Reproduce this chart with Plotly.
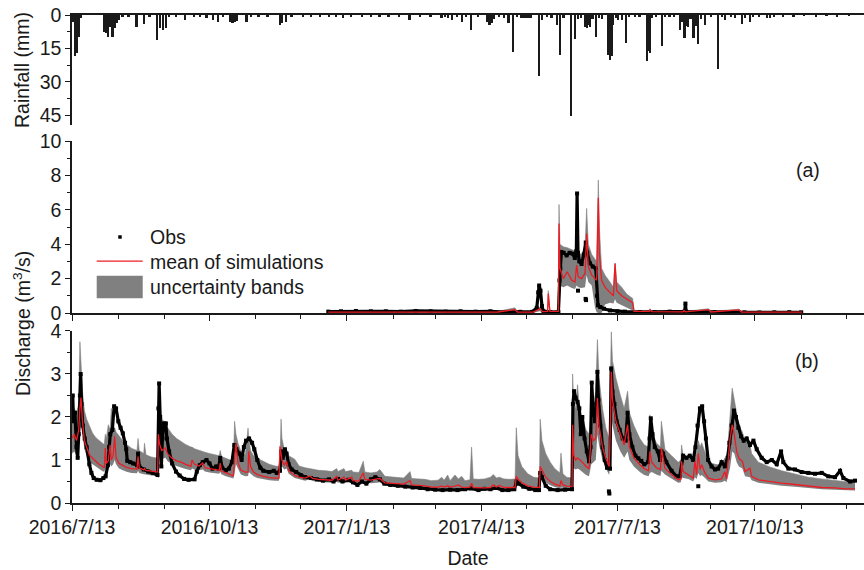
import numpy as np
import pandas as pd
import plotly.graph_objects as go

# ---------------------------------------------------------------------------
# Time base: every series is given as days since 2016-07-13
# ---------------------------------------------------------------------------
START = pd.Timestamp("2016-07-13")
END = pd.Timestamp("2017-12-25")

tick_dates = ["2016-07-13", "2016-10-13", "2017-01-13", "2017-04-13", "2017-07-13", "2017-10-13"]
tick_labels = ["2016/7/13", "2016/10/13", "2017/1/13", "2017/4/13", "2017/7/13", "2017/10/13"]

# ---------------------------------------------------------------------------
# Daily rainfall (mm): rain days only
# ---------------------------------------------------------------------------
rain_day = [1.0, 2.4, 3.5, 4.6, 6.0,
            21.4, 22.8, 24.3, 25.4, 27.2, 28.8, 30.3, 31.7, 34, 38,
            43.3, 48.2, 52,
            57.3, 58.9, 61.1, 62.9, 65,
            70, 75.6, 82, 86,
            90.1, 94.5, 97.9, 101,
            106, 107.5, 109, 110.5, 116.9, 120,
            125, 131, 139.2, 140.3, 143.5, 147,
            155, 160, 166, 172, 177, 181.5, 187, 194, 200, 206, 212, 219, 226, 233, 240,
            247.5, 250, 252, 254.7, 258, 261, 264, 267, 272,
            277.7, 279.5, 281, 282.5, 286, 289,
            292.2, 295.5, 298, 301, 303, 305, 307,
            312.7, 314.5, 318, 321,
            324.5, 326.7, 329,
            333.9, 336.8, 339, 341,
            343.5, 344.8, 345.7, 346.8, 348.5,
            350.7, 353, 355,
            359, 360.2, 361.3, 362.4, 364,
            365.8, 368, 370.7, 373, 377, 380,
            384.8, 385.9, 386.9, 388.5, 391,
            394.8, 397, 400, 403,
            407, 408.5, 410, 411.3, 412.6, 414, 416, 417.5, 419.3, 421, 423.8,
            428, 432.7, 435, 437.2, 441, 444,
            448.3, 450.5, 453.9, 456, 460, 465, 467, 470, 476, 483, 490, 498, 505, 512, 520]
rain_mm = [3.0, 18.5, 17.2, 9.7, 1.5,
           7.5, 8.0, 9.7, 5.2, 9.7, 5.9, 3.7, 2.2, 1.0, 0.8,
           5.2, 4.0, 0.8,
           11.2, 5.9, 6.7, 5.9, 1.0,
           0.8, 2.2, 1.0, 0.7,
           1.5, 2.2, 3.0, 0.8,
           3.0, 3.7, 3.0, 2.5, 3.0, 1.0,
           0.6, 0.8, 4.5, 3.7, 3.0, 0.6,
           0.5, 0.6, 0.7, 0.5, 0.8, 1.2, 0.6, 0.8, 0.6, 0.9, 0.5, 0.6, 2.2, 0.5, 0.6,
           1.5, 1.0, 1.2, 2.2, 0.8, 3.0, 0.7, 6.7, 0.6,
           3.0, 4.5, 3.7, 2.0, 1.0, 1.2,
           3.7, 16.4, 1.0, 1.5, 1.2, 1.5, 1.2,
           27.3, 2.2, 1.0, 1.2,
           4.5, 17.9, 1.5,
           45.2, 10.9, 2.0, 1.5,
           5.2, 6.0, 4.5, 5.2, 2.0,
           9.7, 1.5, 2.0,
           17.9, 20.0, 18.5, 4.5, 1.5,
           2.2, 2.2, 12.4, 1.0, 1.0, 0.8,
           20.6, 16.0, 17.2, 1.5, 1.0,
           13.9, 1.0, 0.8, 1.0,
           6.7, 3.0, 10.4, 5.0, 5.2, 2.0, 10.4, 5.0, 13.1, 2.0, 4.5,
           0.8, 24.3, 0.8, 2.2, 1.0, 1.5,
           4.0, 1.5, 3.0, 1.0, 0.8, 1.5, 1.5, 0.6, 0.5, 0.6, 0.4, 0.5, 0.4, 0.5, 0.4]

# ---------------------------------------------------------------------------
# Panel (a): simulation mean and uncertainty band, observed discharge (m3/s)
# ---------------------------------------------------------------------------
a_sim_day = [171.5, 200, 230, 260, 285, 296.4, 298, 308.7, 313.1, 315,
             318.3, 318.7, 319.8, 325.4, 325.9, 326.5, 328.8, 331.4, 334.4, 336.6,
             337.7, 338.8, 341, 343.3, 344.4, 345.5, 347.8, 350, 351.1, 352.2,
             352.9, 354.4, 356.7, 360, 362.3, 363.4, 364.5, 367.8, 371.2, 375.2,
             376.1, 386.3, 386.8, 388, 409, 409.5, 410.5, 426, 427.5, 446.5,
             448, 470, 488.5]
a_mean = [0.05, 0.06, 0.06, 0.07, 0.06, 0.2, 0.06, 0.05, 0.25, 0.08,
          0.1, 1.13, 0.1, 0.1, 5.2, 2.6, 2.0, 2.4, 1.9, 1.8,
          2.78, 2.1, 2.0, 2.3, 4.62, 2.7, 2.2, 2.0, 1.9, 6.7,
          3.5, 1.9, 1.5, 1.2, 1.0, 2.87, 1.3, 1.0, 0.8, 0.6,
          0.1, 0.1, 0.18, 0.08, 0.07, 0.15, 0.07, 0.2, 0.06, 0.18,
          0.06, 0.05, 0.05]
a_low = [0.02, 0.03, 0.03, 0.03, 0.03, 0.08, 0.03, 0.02, 0.1, 0.03,
         0.04, 0.5, 0.05, 0.05, 1.5, 1.6, 1.5, 1.6, 1.45, 1.4,
         1.6, 1.5, 1.45, 1.5, 2.2, 1.8, 1.6, 0.3, 0.05, 0.0,
         0.0, 0.0, 0.5, 0.6, 0.55, 0.8, 0.6, 0.45, 0.3, 0.15,
         0.03, 0.04, 0.06, 0.03, 0.03, 0.05, 0.03, 0.05, 0.03, 0.05,
         0.03, 0.02, 0.02]
a_high = [0.08, 0.09, 0.1, 0.1, 0.1, 0.3, 0.1, 0.08, 0.35, 0.12,
          0.2, 1.3, 0.15, 0.15, 6.31, 4.0, 3.85, 3.8, 3.7, 3.6,
          4.0, 3.5, 3.4, 3.8, 6.08, 4.0, 3.4, 3.1, 3.0, 7.73,
          5.0, 2.6, 2.2, 1.8, 1.5, 2.9, 1.8, 1.5, 1.1, 0.85,
          0.15, 0.15, 0.25, 0.12, 0.1, 0.2, 0.1, 0.25, 0.1, 0.22,
          0.09, 0.08, 0.08]

a_obs_day = [171.5, 180, 190, 200, 210, 220, 230, 240, 250, 260,
             270, 280, 290, 300, 308, 311, 312, 312.6, 313.5, 314.5,
             315.5, 320, 325.5, 326.2, 326.8, 327.5, 329, 331, 333, 335,
             336.5, 337.5, 338, 338.6, 339.5, 341, 342.5, 343.8, 344.8, 346.5,
             348.5, 350.5, 351.3, 352, 353.5, 356, 360, 365, 370, 380,
             390, 400, 410, 410.5, 411, 420, 430, 440, 450, 460,
             470, 480, 488]
a_obs = [0.08, 0.1, 0.12, 0.1, 0.1, 0.08, 0.12, 0.1, 0.08, 0.1,
         0.08, 0.1, 0.06, 0.07, 0.07, 0.3, 1.2, 1.6, 1.3, 0.4,
         0.1, 0.05, 0.05, 1.9, 2.6, 3.55, 3.5, 3.35, 3.5, 3.45,
         3.2, 3.6, 6.95, 3.5, 3.0, 2.85, 3.4, 4.1, 3.5, 2.9,
         2.7, 2.6, 1.0, 0.45, 0.35, 0.25, 0.15, 0.1, 0.08, 0.06,
         0.05, 0.08, 0.1, 0.55, 0.08, 0.06, 0.05, 0.06, 0.04, 0.03,
         0.04, 0.05, 0.04]
a_obs_out_day = [338.6, 343.7, 344.0]
a_obs_out = [1.3, 0.82, 0.75]

# ---------------------------------------------------------------------------
# Panel (b): simulation mean and uncertainty band, observed discharge (m3/s)
# ---------------------------------------------------------------------------
b_sim_day = [0, 1.5, 3, 4.5, 5.3, 6, 7, 8.3, 9.8, 11.6,
             13.8, 16, 18, 20, 21.6, 22.3, 23, 24.3, 25.5, 26.3,
             27.5, 28.5, 29.5, 31.5, 34, 37, 40, 43.5, 44.2, 45,
             48, 48.5, 49.5, 53, 57.3, 57.8, 58.5, 60, 62.5, 64,
             67, 70, 73, 76, 79.6, 80.3, 82, 85, 87.4, 89,
             92, 95, 98.5, 99.2, 100, 103, 106, 108, 108.8, 109.7,
             111, 113, 116, 117.8, 118.3, 119.5, 121.5, 124, 128, 132,
             136, 138.5, 139.2, 139.9, 140.5, 142, 143.6, 145, 149, 152,
             156, 159.2, 161, 165, 170, 174, 177.1, 178, 182, 183,
             187.2, 188, 192, 194.9, 196, 200, 204, 206, 209.4, 214,
             218.4, 222, 226.2, 227.3, 232, 236, 240.6, 245, 247.4, 249,
             251.4, 253, 256.3, 258.5, 260.8, 263, 266.3, 267.4, 268.5, 272,
             276, 280, 282, 284, 286, 289, 293, 296.5, 297.3, 298.5,
             301, 305, 309, 312.8, 313.3, 314.5, 317, 320, 323, 326.5,
             327.2, 328.5, 331, 334.6, 335, 335.8, 337, 338.3, 339.5, 341.5,
             344, 346, 347.5, 349, 350.5, 351.6, 352.7, 355, 357.2, 359.5,
             360.4, 360.9, 361.7, 364, 367, 369.5, 371.8, 373, 376, 380,
             383, 385.8, 386.7, 388, 391, 393.8, 394.4, 396.8, 401.2, 405.7,
             407.5, 407.9, 409, 412.4, 415.7, 416.9, 418, 419.1, 420.3, 421.4,
             423.6, 425.9, 430.3, 434.7, 436.9, 438, 440.3, 441.8, 443.2, 444.8,
             446.3, 448.6, 450.4, 453.7, 454.8, 459.3, 466, 474.9, 483.8, 492.7,
             501.7, 510.6, 517.3, 524]
b_mean = [1.5, 1.6, 1.45, 1.7, 2.2, 2.45, 1.9, 1.45, 1.3, 1.12,
          1.04, 0.97, 0.9, 0.86, 0.82, 1.28, 0.92, 0.98, 1.35, 1.0,
          1.1, 1.55, 1.05, 0.92, 0.88, 0.82, 0.8, 0.79, 1.08, 0.82,
          0.77, 0.8, 0.76, 0.74, 0.72, 1.6, 1.38, 1.22, 1.28, 1.14,
          1.04, 0.98, 0.95, 0.9, 0.85, 1.0, 0.9, 0.86, 0.93, 0.82,
          0.8, 0.78, 0.76, 0.93, 0.75, 0.7, 0.65, 0.63, 1.05, 1.39,
          0.95, 0.76, 0.72, 0.72, 1.2, 0.85, 0.72, 0.66, 0.62, 0.59,
          0.58, 0.58, 1.32, 1.1, 1.0, 0.88, 0.97, 0.75, 0.64, 0.6,
          0.58, 0.63, 0.57, 0.55, 0.54, 0.53, 0.62, 0.53, 0.6, 0.53,
          0.6, 0.52, 0.51, 0.7, 0.55, 0.53, 0.56, 0.57, 0.47, 0.46,
          0.45, 0.44, 0.52, 0.42, 0.41, 0.4, 0.37, 0.37, 0.39, 0.37,
          0.4, 0.37, 0.39, 0.42, 0.37, 0.36, 0.37, 0.46, 0.36, 0.35,
          0.35, 0.36, 0.42, 0.37, 0.41, 0.36, 0.36, 0.36, 0.62, 0.55,
          0.47, 0.4, 0.37, 0.36, 0.85, 0.78, 0.6, 0.5, 0.44, 0.4,
          0.52, 0.42, 0.39, 0.38, 1.82, 1.1, 1.0, 1.05, 1.02, 0.95,
          0.85, 0.8, 1.6, 1.45, 1.5, 2.44, 1.8, 1.3, 1.04, 0.85,
          2.0, 3.05, 2.4, 1.9, 1.6, 1.35, 1.82, 1.3, 1.05, 0.89,
          0.8, 0.75, 1.2, 0.95, 0.82, 0.78, 1.28, 0.81, 0.66, 0.54,
          0.56, 0.97, 0.73, 0.66, 0.58, 0.97, 0.66, 1.15, 0.78, 0.89,
          0.7, 0.58, 0.54, 0.56, 0.73, 0.56, 1.47, 1.82, 1.59, 1.2,
          1.04, 0.97, 0.73, 0.81, 0.62, 0.54, 0.5, 0.46, 0.43, 0.39,
          0.36, 0.35, 0.33, 0.33]
b_low = [1.15, 1.2, 1.1, 1.25, 1.7, 1.9, 1.6, 1.25, 1.1, 0.96,
         0.9, 0.84, 0.79, 0.75, 0.72, 0.8, 0.78, 0.82, 0.9, 0.85,
         0.9, 1.0, 0.9, 0.8, 0.76, 0.72, 0.7, 0.69, 0.75, 0.7,
         0.67, 0.67, 0.66, 0.64, 0.63, 0.95, 1.1, 1.02, 1.05, 0.97,
         0.9, 0.86, 0.82, 0.79, 0.76, 0.8, 0.78, 0.76, 0.78, 0.73,
         0.71, 0.7, 0.68, 0.72, 0.67, 0.62, 0.58, 0.57, 0.7, 0.9,
         0.8, 0.66, 0.62, 0.63, 0.72, 0.68, 0.62, 0.58, 0.55, 0.53,
         0.52, 0.52, 0.7, 0.85, 0.85, 0.78, 0.8, 0.68, 0.58, 0.55,
         0.52, 0.55, 0.51, 0.49, 0.48, 0.47, 0.5, 0.47, 0.49, 0.47,
         0.48, 0.46, 0.45, 0.5, 0.47, 0.46, 0.47, 0.48, 0.41, 0.4,
         0.39, 0.38, 0.4, 0.37, 0.36, 0.35, 0.33, 0.33, 0.33, 0.33,
         0.33, 0.32, 0.32, 0.33, 0.32, 0.31, 0.32, 0.34, 0.31, 0.3,
         0.3, 0.3, 0.32, 0.31, 0.31, 0.3, 0.3, 0.3, 0.38, 0.42,
         0.38, 0.33, 0.31, 0.3, 0.55, 0.6, 0.48, 0.41, 0.37, 0.34,
         0.36, 0.35, 0.33, 0.32, 0.9, 0.8, 0.78, 0.8, 0.78, 0.72,
         0.65, 0.62, 0.9, 0.95, 1.0, 1.6, 1.35, 1.0, 0.8, 0.65,
         1.0, 2.0, 1.8, 1.45, 1.2, 1.05, 1.2, 1.0, 0.85, 0.72,
         0.65, 0.62, 0.7, 0.72, 0.66, 0.63, 0.75, 0.66, 0.56, 0.47,
         0.48, 0.6, 0.58, 0.56, 0.5, 0.6, 0.56, 0.7, 0.62, 0.65,
         0.58, 0.5, 0.47, 0.48, 0.52, 0.48, 0.8, 1.2, 1.15, 0.95,
         0.85, 0.8, 0.62, 0.6, 0.53, 0.47, 0.44, 0.4, 0.38, 0.35,
         0.32, 0.31, 0.3, 0.29]
b_high = [2.0, 2.2, 2.1, 2.3, 3.75, 3.2, 2.6, 2.15, 1.95, 1.8,
          1.62, 1.52, 1.45, 1.4, 1.36, 1.6, 1.5, 1.82, 1.7, 2.2,
          1.75, 1.75, 1.65, 1.55, 1.45, 1.35, 1.27, 1.22, 1.5, 1.22,
          1.15, 1.39, 1.12, 1.07, 1.04, 2.2, 2.17, 1.97, 1.85, 1.75,
          1.6, 1.5, 1.43, 1.36, 1.3, 1.3, 1.26, 1.22, 1.2, 1.18,
          1.15, 1.12, 1.1, 1.22, 1.08, 1.04, 0.99, 0.97, 1.9, 1.6,
          1.4, 1.2, 1.12, 1.74, 1.5, 1.22, 1.1, 1.04, 0.97, 0.9,
          0.86, 0.85, 1.0, 1.95, 1.5, 1.25, 1.2, 1.1, 1.02, 0.86,
          0.82, 0.8, 0.78, 0.76, 0.75, 0.73, 0.8, 0.73, 0.8, 0.73,
          0.76, 0.72, 0.71, 0.97, 0.72, 0.7, 0.72, 0.78, 0.62, 0.6,
          0.59, 0.58, 0.73, 0.57, 0.56, 0.55, 0.52, 0.53, 0.6, 0.53,
          0.65, 0.52, 0.65, 0.56, 0.62, 0.52, 0.54, 1.3, 0.56, 0.55,
          0.56, 0.6, 0.66, 0.58, 0.6, 0.56, 0.55, 0.56, 1.75, 1.1,
          0.85, 0.68, 0.6, 0.58, 1.95, 1.45, 1.15, 0.95, 0.8, 0.7,
          1.16, 0.68, 0.6, 0.58, 3.0, 2.3, 2.2, 2.75, 2.2, 2.0,
          1.7, 1.6, 2.1, 2.3, 2.6, 3.8, 2.9, 2.2, 1.75, 1.5,
          3.2, 3.98, 3.3, 2.9, 2.5, 2.2, 2.6, 2.1, 1.8, 1.5,
          1.35, 1.3, 2.05, 1.65, 1.4, 1.3, 1.9, 1.25, 1.1, 0.95,
          1.0, 1.35, 1.1, 1.05, 1.0, 1.43, 1.1, 1.45, 1.3, 1.4,
          1.2, 0.95, 0.9, 0.88, 1.05, 0.9, 2.0, 2.67, 2.4, 2.1,
          1.8, 1.65, 1.45, 1.35, 1.15, 0.95, 0.85, 0.75, 0.68, 0.6,
          0.56, 0.53, 0.5, 0.47]

b_obs_day = [0, 0.5, 1, 2, 3, 3.8, 4.5, 5.3, 5.8, 6.4,
             7.2, 8.5, 9.8, 11.6, 13, 14.5, 16.5, 19, 21, 22.5,
             24, 24.8, 25.6, 27, 28.2, 29.5, 31, 32.5, 34, 35.5,
             36.3, 37, 39, 41, 43.5, 44.2, 45, 48, 51, 54,
             57.2, 57.8, 58.3, 59, 59.8, 60.5, 61.5, 62.8, 63.5, 65,
             67, 69.6, 72, 75, 78, 82, 83.5, 85.5, 87.5, 90,
             92, 94, 96.5, 98, 99.2, 100.5, 103, 105, 107, 108.6,
             110, 112, 113.5, 115, 116.5, 118.5, 120.5, 122, 124, 126,
             128, 132, 135, 137, 139.2, 140, 141, 142.5, 143.6, 145,
             147, 150, 153, 156, 160, 164, 168, 172, 175, 178,
             181, 185, 188, 191, 194, 197, 200, 203, 206, 209,
             213, 218, 223, 228, 233, 238, 243, 248, 253, 258,
             263, 267, 272, 276, 280, 284, 288, 292, 296, 297.5,
             299, 302, 306, 310, 312.5, 313.3, 314.5, 317, 320, 325,
             330, 334.6, 335.2, 336, 337, 338.3, 339.5, 340.5, 341.5, 343,
             344.5, 346, 347, 347.8, 348.5, 350, 351, 351.6, 352.3, 353.5,
             355, 356.5, 358, 360, 360.8, 361.7, 363, 364.5, 366.5, 368.5,
             370.5, 371.8, 373, 375, 377, 379, 381, 383, 385.5, 386.5,
             387.3, 388.5, 390, 392, 393.5, 394.5, 395.6, 397.7, 401.2, 404.5,
             406.7, 409, 411.2, 413.4, 415.7, 417.2, 418.6, 420.2, 421.7, 423,
             424.2, 425.7, 428, 430.3, 432.4, 434.7, 436.9, 438.7, 439.9, 441.4,
             443, 444.3, 445.9, 447.7, 449.5, 451.5, 453.7, 456, 458.2, 461.5,
             464.9, 468.3, 471.6, 474.5, 476, 479.4, 483.8, 488.3, 492.7, 497.2,
             501.7, 506.1, 510.6, 514, 516.2, 520.7, 524]
b_obs = [2.0, 2.5, 1.9, 2.1, 1.3, 1.05, 1.6, 2.5, 3.0, 2.3,
         1.8, 1.5, 1.3, 0.9, 0.7, 0.58, 0.54, 0.53, 0.58, 0.62,
         0.88, 1.3, 1.6, 1.7, 2.25, 2.2, 1.9, 1.75, 1.62, 1.4,
         1.25, 0.98, 0.95, 0.92, 0.88, 1.15, 0.85, 0.78, 0.73, 0.7,
         0.65, 2.2, 2.78, 2.0, 0.85, 1.5, 1.85, 1.85, 1.5, 1.2,
         0.92, 0.73, 0.64, 0.56, 0.54, 0.55, 0.73, 0.88, 0.95, 1.0,
         0.92, 0.8, 0.85, 0.8, 1.05, 0.82, 0.76, 0.8, 0.95, 1.35,
         1.25, 1.15, 1.0, 1.3, 1.45, 1.5, 1.4, 1.25, 1.0, 0.82,
         0.75, 0.72, 0.75, 0.7, 0.75, 1.2, 1.05, 1.25, 1.15, 0.9,
         0.78, 0.72, 0.65, 0.6, 0.58, 0.55, 0.52, 0.55, 0.5, 0.56,
         0.5, 0.54, 0.48, 0.42, 0.5, 0.45, 0.55, 0.6, 0.55, 0.45,
         0.42, 0.4, 0.38, 0.36, 0.35, 0.32, 0.31, 0.3, 0.31, 0.3,
         0.32, 0.34, 0.3, 0.33, 0.32, 0.35, 0.3, 0.3, 0.32, 0.5,
         0.45, 0.38, 0.33, 0.3, 0.3, 0.7, 0.6, 0.4, 0.32, 0.3,
         0.31, 0.32, 2.3, 2.6, 2.45, 2.35, 2.2, 1.6, 2.0, 1.5,
         1.2, 0.97, 1.3, 2.8, 2.3, 1.9, 2.2, 3.05, 2.4, 1.8,
         1.3, 1.0, 0.82, 0.8, 3.13, 2.6, 2.3, 1.9, 1.7, 1.5,
         1.45, 2.1, 1.6, 1.3, 1.1, 1.04, 0.98, 0.9, 0.95, 1.5,
         1.97, 1.6, 1.3, 1.2, 1.0, 1.2, 1.15, 0.95, 0.75, 0.62,
         0.62, 1.1, 1.05, 1.1, 1.0, 1.3, 1.8, 2.2, 2.25, 1.9,
         1.5, 1.0, 0.85, 0.78, 0.8, 0.95, 0.85, 1.05, 1.4, 1.8,
         2.15, 2.0, 1.75, 1.55, 1.45, 1.5, 1.35, 1.45, 1.25, 1.05,
         0.95, 1.0, 0.9, 1.2, 0.95, 0.8, 0.78, 0.72, 0.7, 0.68,
         0.7, 0.62, 0.6, 0.75, 0.58, 0.5, 0.52]
b_obs_out_day = [359.3, 359.6, 419.1]
b_obs_out = [0.27, 0.22, 0.39]

# ---------------------------------------------------------------------------
# Styling
# ---------------------------------------------------------------------------
INK = "#1a1a1a"
RED = "rgb(236,28,36)"
BAND = "rgb(128,128,128)"
FONT = "Liberation Sans, Arial, sans-serif"
FSIZE = 19.5
DAY_MS = 86400000


def as_dates(days):
    return START + pd.to_timedelta(np.asarray(days, dtype=float), unit="D")


fig = go.Figure()

# rainfall hanging from the top axis
fig.add_trace(go.Bar(x=as_dates(rain_day), y=rain_mm, width=1.15 * DAY_MS,
                     marker=dict(color=INK, line=dict(width=0)),
                     xaxis="x", yaxis="y", showlegend=False))


def add_panel(xa, ya, sim_day, low, high, mean, obs_day, obs, out_day, out):
    d = as_dates(sim_day)
    fig.add_trace(go.Scatter(x=d, y=low, mode="lines", line=dict(width=0, color=BAND),
                             xaxis=xa, yaxis=ya, showlegend=False, hoverinfo="skip"))
    fig.add_trace(go.Scatter(x=d, y=high, mode="lines", line=dict(width=0.6, color=BAND),
                             fill="tonexty", fillcolor=BAND, xaxis=xa, yaxis=ya,
                             name="uncertainty bands", showlegend=False))
    fig.add_trace(go.Scatter(x=as_dates(obs_day), y=obs, mode="lines+markers",
                             line=dict(width=3.2, color="black"),
                             marker=dict(symbol="square", size=4, color="black"),
                             xaxis=xa, yaxis=ya, name="Obs", showlegend=False))
    fig.add_trace(go.Scatter(x=as_dates(out_day), y=out, mode="markers",
                             marker=dict(symbol="square", size=4, color="black"),
                             xaxis=xa, yaxis=ya, showlegend=False))
    fig.add_trace(go.Scatter(x=d, y=mean, mode="lines", line=dict(width=1.3, color=RED),
                             xaxis=xa, yaxis=ya, name="mean of simulations", showlegend=False))


add_panel("x2", "y2", a_sim_day, a_low, a_high, a_mean, a_obs_day, a_obs, a_obs_out_day, a_obs_out)
add_panel("x3", "y3", b_sim_day, b_low, b_high, b_mean, b_obs_day, b_obs, b_obs_out_day, b_obs_out)

tick_font = dict(family=FONT, size=FSIZE, color=INK)
x_range = [START.strftime("%Y-%m-%d"), END.strftime("%Y-%m-%d")]
minor_x = dict(tickvals=pd.date_range("2016-08-13", "2017-12-13",
                                      freq=pd.DateOffset(months=1)).strftime("%Y-%m-%d").tolist(),
               ticks="outside", ticklen=4, tickwidth=1.3, tickcolor=INK)

base_x = dict(type="date", range=x_range, showgrid=False, zeroline=False,
              showline=True, linecolor=INK, linewidth=1.5, domain=[0, 1])
base_y = dict(showgrid=False, zeroline=False, showline=True, linecolor=INK, linewidth=1.5,
              ticks="outside", ticklen=5, tickwidth=1.3, tickcolor=INK, tickfont=tick_font)

fig.update_layout(
    width=864, height=570,
    margin=dict(l=72, r=0, t=15, b=67),
    paper_bgcolor="white", plot_bgcolor="white",
    bargap=0,
    font=dict(family=FONT, size=FSIZE, color=INK),
    xaxis=dict(base_x, anchor="y", side="top", ticks="", showticklabels=False),
    xaxis2=dict(base_x, anchor="y2", showticklabels=False, ticks="outside", ticklen=6,
                tickwidth=1.3, tickcolor=INK, tickmode="array", tickvals=tick_dates,
                minor=minor_x),
    xaxis3=dict(base_x, anchor="y3", ticks="outside", ticklen=6, tickwidth=1.3, tickcolor=INK,
                tickmode="array", tickvals=tick_dates, ticktext=tick_labels,
                tickfont=tick_font, minor=minor_x,
                title=dict(text="Date", font=tick_font, standoff=14)),
    yaxis=dict(base_y, anchor="x", domain=[0.7746, 1.0], range=[49.3, 0],
               tickmode="array", tickvals=[0, 15, 30, 45],
               minor=dict(dtick=7.5, tick0=0, ticks="outside", ticklen=3, tickwidth=1.3, tickcolor=INK)),
    yaxis2=dict(base_y, anchor="x2", domain=[0.3893, 0.7418], range=[0, 10],
                tickmode="linear", tick0=0, dtick=2,
                minor=dict(dtick=1, ticks="outside", ticklen=3, tickwidth=1.3, tickcolor=INK)),
    yaxis3=dict(base_y, anchor="x3", domain=[0.0, 0.3525], range=[0, 4],
                tickmode="linear", tick0=0, dtick=1,
                minor=dict(dtick=0.5, ticks="outside", ticklen=3, tickwidth=1.3, tickcolor=INK)),
)

# axis titles written vertically on the left
fig.add_annotation(text="Rainfall (mm)", xref="paper", yref="y domain", x=-0.0631, y=0.5,
                   textangle=-90, showarrow=False, xanchor="center", yanchor="middle",
                   font=tick_font)
fig.add_annotation(text="Discharge (m<sup>3</sup>/s)", xref="paper", yref="paper",
                   x=-0.0631, y=0.3668, textangle=-90, showarrow=False,
                   xanchor="center", yanchor="middle", font=tick_font)

# panel tags
fig.add_annotation(text="(a)", xref="x2 domain", yref="y2 domain", x=0.947, y=0.907,
                   showarrow=False, font=tick_font)
fig.add_annotation(text="(b)", xref="x3 domain", yref="y3 domain", x=0.946, y=0.899,
                   showarrow=False, font=tick_font)

# legend drawn inside panel (a)
fig.add_shape(type="rect", xref="x2 domain", yref="y2 domain",
              x0=0.0584, x1=0.0628, y0=0.432, y1=0.452,
              fillcolor="black", line=dict(width=0))
fig.add_shape(type="line", xref="x2 domain", yref="y2 domain",
              x0=0.0312, x1=0.0893, y0=0.302, y1=0.302, line=dict(color=RED, width=1.3))
fig.add_shape(type="rect", xref="x2 domain", yref="y2 domain",
              x0=0.0312, x1=0.0893, y0=0.0855, y1=0.2169,
              fillcolor=BAND, line=dict(width=0))
for label, yy in [("Obs", 0.442), ("mean of simulations", 0.298), ("uncertainty bands", 0.153)]:
    fig.add_annotation(text=label, xref="x2 domain", yref="y2 domain", x=0.096, y=yy,
                       xanchor="left", yanchor="middle", showarrow=False, font=tick_font)

fig.write_html("out.html")
